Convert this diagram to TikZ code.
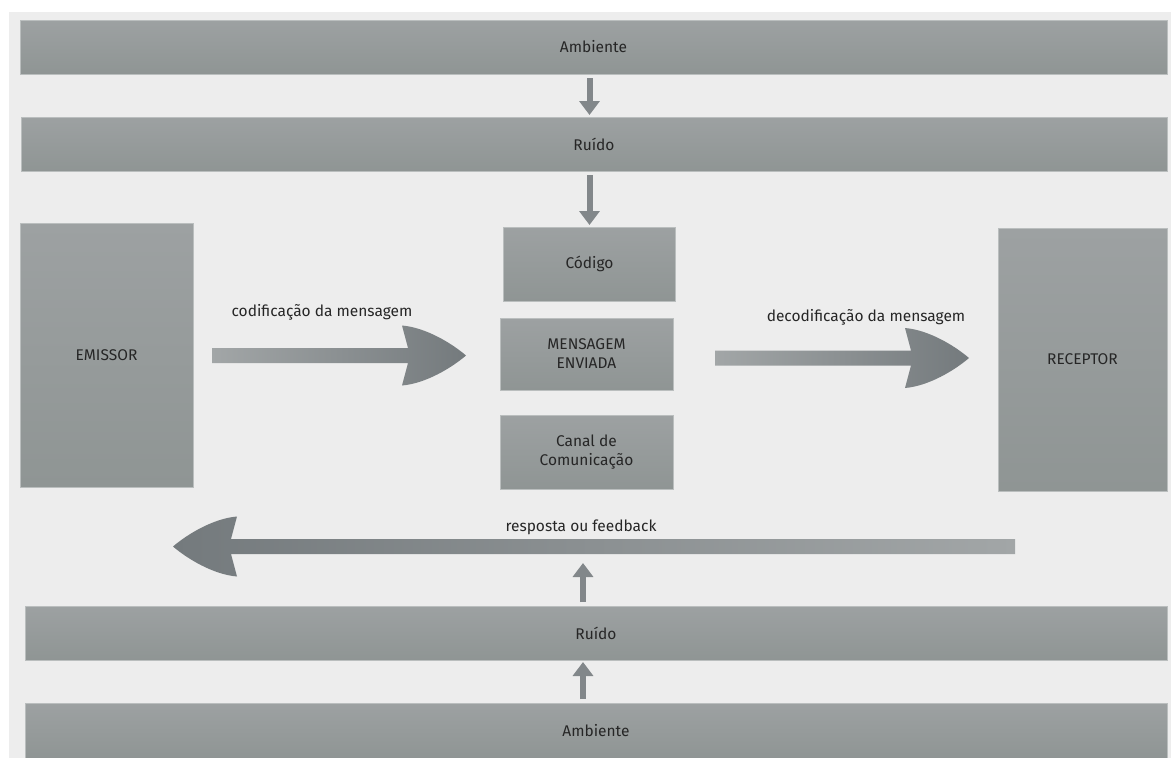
\documentclass[tikz,border=0pt]{standalone}
\usepackage{fontspec}
\setmainfont{Fira Sans}
\usetikzlibrary{arrows.meta, positioning, calc}
\definecolor{panelgray}{HTML}{EDEDED}
\definecolor{bartop}{HTML}{9DA1A2}
\definecolor{barbot}{HTML}{8F9594}
\definecolor{barline}{HTML}{BABEBE}
\definecolor{arrowlight}{HTML}{A2A6A7}
\definecolor{arrowdark}{HTML}{747A7D}
\definecolor{textgray}{HTML}{262626}

\tikzset{
  bar/.style={top color=bartop, bottom color=barbot, draw=barline, line width=0.8pt,
    inner sep=0pt, outer sep=0pt, text=textgray, font=\fontsize{15.5}{19}\selectfont},
  box/.style={bar, align=center},
  smallarrow/.style={draw=arrowdark!90!white, line width=6pt,
    -{Triangle[width=20pt,length=14pt]}, shorten <=4pt, shorten >=2pt},
  arrowlabel/.style={text=textgray, font=\fontsize{15.5}{19}\selectfont}
}

% fat shaded arrow: #1 start, #2 tip, #3 direction (1 right, -1 left)
\newcommand{\fatarrow}[4]{%
  \shade[#4] let \p1=(#1), \p2=(#2) in
    (\x1, \y1+7.5) -- ({\x2-(#3)*58}, \y1+7.5) -- ({\x2-(#3)*64}, \y1+30)
    .. controls ({\x2-(#3)*40}, \y1+28) and ({\x2-(#3)*14}, \y1+12) .. (\x2, \y1)
    .. controls ({\x2-(#3)*14}, \y1-12) and ({\x2-(#3)*40}, \y1-28) .. ({\x2-(#3)*64}, \y1-30)
    -- ({\x2-(#3)*58}, \y1-7.5) -- (\x1, \y1-7.5) -- cycle;
}

\begin{document}
\begin{tikzpicture}[x=1pt, y=-1pt]
  \useasboundingbox (0,0) rectangle (1171,758);
  \fill[panelgray] (9,12) rectangle (1171,758);

  % Top bars
  \node[bar, minimum width=1147pt, minimum height=54pt] (amb1) at (593.5,47) {Ambiente};
  \node[bar, minimum width=1146pt, minimum height=54pt] (ruido1) at (594,144) {Ruído};

  % Middle column
  \node[box, minimum width=172pt, minimum height=74pt] (cod) at (589.5,264) {Código};
  \node[box, minimum width=173pt, minimum height=72pt] (mens) at (586.5,354) {MENSAGEM\\ENVIADA};
  \node[box, minimum width=173pt, minimum height=74pt] (canal) at (586.5,452) {Canal de\\Comunicação};

  % Sender and receiver
  \node[box, minimum width=173pt, minimum height=264pt] (emis) at (106.5,355) {EMISSOR};
  \node[box, minimum width=169pt, minimum height=263pt] (recep) at (1082.5,359.5) {RECEPTOR};

  % Bottom bars
  \node[bar, minimum width=1142pt, minimum height=54pt] (ruido2) at (596,633) {Ruído};
  \node[bar, minimum width=1142pt, minimum height=55pt] (amb2) at (596,730.5) {Ambiente};

  % Noise arrows
  \draw[smallarrow] (amb1.south -| cod) -- (ruido1.north -| cod);
  \draw[smallarrow] (ruido1.south -| cod) -- (cod.north);
  \draw[smallarrow] ($(ruido2.north)+(-13,0)$) -- ($(ruido2.north)+(-13,-45)$);
  \draw[smallarrow] ($(amb2.north)+(-13,0)$) -- ($(ruido2.south)+(-13,0)$);

  % Message flow
  \coordinate (c1s) at ($(emis.east)+(19,0.5)$);
  \coordinate (c1e) at ($(mens.west)+(-34,1.5)$);
  \fatarrow{c1s}{c1e}{1}{left color=arrowlight, right color=arrowdark}
  \node[arrowlabel] (codlab) at (322,312) {codificação da mensagem};

  \coordinate (c2s) at ($(mens.east)+(42,4)$);
  \coordinate (c2e) at ($(recep.west)+(-29,-1.5)$);
  \fatarrow{c2s}{c2e}{1}{left color=arrowlight, right color=arrowdark}
  \node[arrowlabel] (decodlab) at (866,317) {decodificação da mensagem};

  % Feedback
  \coordinate (fbs) at ($(recep.west)+(17,187)$);
  \coordinate (fbe) at ($(emis.east)+(-20,191.5)$);
  \fatarrow{fbs}{fbe}{-1}{left color=arrowdark, right color=arrowlight}
  \node[arrowlabel] (fblab) at (581,527) {resposta ou feedback};
\end{tikzpicture}
\end{document}
